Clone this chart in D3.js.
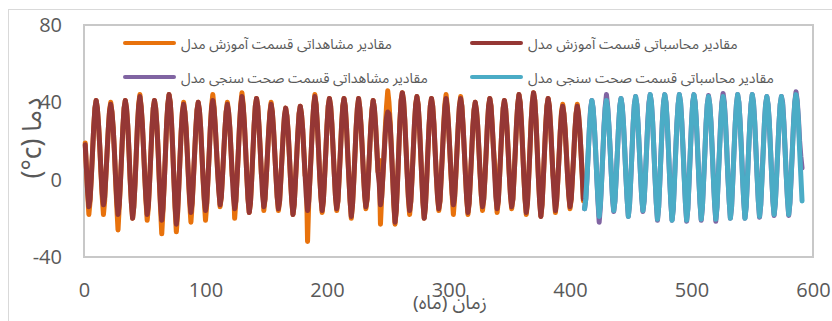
<!DOCTYPE html>
<html>
<head>
<meta charset="utf-8">
<script src="https://cdn.jsdelivr.net/npm/d3@7"></script>
<style>
  body { margin: 0; background: #fff; }
  svg { display: block; }
</style>
</head>
<body>
<svg id="chart" width="832" height="321"></svg>
<script>
// Monthly temperature (°C). Training period: months 1–411, validation: months 412–591.
const trainStartMonth = 1;
const validStartMonth = 412;

// Observed values, training period (one row per year)
const observedTrain = [
  19, 6, -7, -18, -11, 1, 14, 27, 37, 41, 37, 28,
  17, 3, -9, -18, -11, 2, 14, 26, 36, 40, 35, 27,
  15, 0, -14, -26, -14, -1, 13, 27, 37, 41, 37, 28,
  15, 0, -12, -20, -14, -2, 13, 28, 39, 44, 38, 29,
  16, 2, -11, -21, -14, -1, 13, 27, 37, 41, 37, 28,
  15, -1, -15, -28, -16, -2, 13, 29, 39, 44, 40, 30,
  16, 0, -15, -27, -18, -4, 11, 25, 35, 40, 35, 27,
  14, 0, -12, -22, -13, 0, 13, 26, 36, 40, 36, 27,
  14, 0, -11, -21, -13, 0, 13, 27, 38, 44, 38, 28,
  16, 4, -5, -14, -9, 2, 14, 26, 35, 40, 35, 27,
  15, 2, -1, -20, -11, 1, 14, 28, 39, 45, 39, 29,
  16, 2, -10, -17, -12, 0, 14, 28, 38, 42, 38, 28,
  16, 3, 0, -16, -10, 1, 13, 25, 35, 40, 35, 26,
  14, 2, -9, -16, -11, 0, 12, 24, 33, 37, 33, 25,
  13, 0, -11, -18, -13, -1, 11, 24, 34, 38, 34, 26,
  14, 2, 2, -32, -11, 1, 14, 28, 38, 44, 39, 29,
  16, 2, -9, -17, -11, 1, 14, 28, 38, 42, 38, 29,
  16, 3, -9, -16, -11, 1, 14, 28, 38, 42, 38, 28,
  14, 1, -11, -20, -13, -1, 13, 27, 37, 42, 37, 28,
  16, 3, -8, -15, -10, 1, 14, 27, 36, 41, 37, 28,
  16, 4, 10, -23, -9, 2, 14, 27, 38, 46, 40, 30,
  16, 2, -13, -23, -16, -2, 14, 30, 41, 45, 41, 31,
  17, 3, -10, -18, -11, 1, 15, 29, 39, 43, 39, 29,
  15, 1, -12, -20, -14, -1, 14, 28, 38, 42, 38, 29,
  15, 2, -9, -16, -11, 1, 14, 28, 39, 44, 38, 28,
  16, 3, -8, -18, -10, 2, 15, 28, 38, 43, 38, 28,
  15, 2, -10, -18, -12, 0, 13, 27, 36, 40, 36, 28,
  16, 3, -8, -16, -10, 1, 14, 28, 38, 42, 38, 28,
  16, 8, -6, -17, -11, 1, 14, 27, 37, 41, 37, 28,
  16, 3, -8, -15, -10, 2, 15, 29, 39, 44, 40, 30,
  16, 2, -10, -18, -12, 1, 15, 30, 40, 45, 41, 31,
  16, 1, -11, -19, -13, 0, 14, 28, 38, 42, 38, 28,
  15, 2, -3, -17, -11, 0, 12, 25, 35, 39, 34, 26,
  14, 2, -8, -15, -10, 1, 12, 25, 34, 39, 34, 26,
  15, 3, -11
];

// Model output, training period
const computedTrain = [
  18, 6, -6, -14, -10, 1, 14, 27, 37, 41, 37, 28,
  17, 4, -7, -13, -9, 2, 14, 26, 35, 39, 35, 27,
  15, 1, -11, -18, -13, -1, 13, 27, 37, 41, 37, 28,
  15, 0, -12, -20, -14, -2, 13, 28, 38, 43, 38, 29,
  16, 2, -10, -18, -13, -1, 13, 27, 37, 41, 37, 28,
  15, 0, -13, -21, -15, -2, 13, 29, 39, 44, 40, 30,
  16, 0, -14, -23, -17, -4, 11, 25, 35, 39, 35, 27,
  14, 1, -10, -17, -12, 0, 13, 26, 36, 40, 36, 27,
  14, 1, -10, -16, -12, 0, 13, 27, 37, 41, 37, 28,
  16, 4, -6, -13, -9, 2, 14, 26, 35, 39, 35, 27,
  15, 2, -9, -15, -11, 1, 14, 28, 38, 43, 38, 29,
  16, 2, -10, -17, -12, 0, 14, 28, 38, 42, 38, 28,
  16, 3, -8, -14, -10, 1, 13, 25, 34, 39, 35, 26,
  14, 2, -9, -15, -11, 0, 12, 24, 33, 37, 33, 25,
  13, 0, -11, -18, -13, -1, 11, 24, 34, 38, 34, 26,
  14, 2, -9, -16, -11, 1, 14, 28, 38, 43, 39, 29,
  16, 2, -9, -16, -11, 1, 14, 28, 38, 42, 38, 29,
  16, 3, -9, -15, -11, 1, 14, 28, 38, 42, 38, 28,
  14, 1, -11, -19, -13, -1, 13, 27, 37, 42, 37, 28,
  16, 3, -8, -14, -10, 1, 14, 27, 36, 41, 37, 28,
  16, 4, -2, -13, -9, 2, 13, 24, 32, 35, 34, 28,
  16, 2, -12, -22, -16, -2, 14, 30, 41, 45, 41, 31,
  17, 3, -9, -16, -11, 1, 15, 29, 39, 43, 39, 29,
  15, 1, -12, -20, -14, -1, 14, 28, 38, 42, 38, 29,
  15, 2, -9, -15, -11, 1, 14, 27, 37, 42, 37, 28,
  16, 4, -7, -13, -9, 2, 15, 28, 38, 42, 38, 28,
  15, 2, -10, -17, -12, 0, 13, 27, 36, 40, 36, 28,
  16, 3, -8, -14, -10, 1, 14, 28, 38, 42, 38, 28,
  16, 3, -9, -15, -11, 1, 14, 27, 37, 41, 37, 28,
  16, 3, -8, -14, -10, 2, 15, 29, 39, 44, 40, 30,
  16, 2, -10, -17, -12, 1, 15, 30, 40, 45, 41, 31,
  16, 1, -11, -19, -13, 0, 14, 28, 38, 42, 38, 28,
  15, 2, -9, -16, -11, 0, 12, 25, 34, 38, 34, 26,
  14, 2, -8, -14, -10, 1, 12, 25, 34, 38, 34, 26,
  15, 3, -10
];

// Observed values, validation period (rows start at the winter low)
const observedValid = [
  -15, -10, 1, 14, 27, 37, 41, 37, 28, 16, 2, -11,
  -22, -14, -1, 13, 28, 38, 44, 38, 28, 16, 3, -10,
  -16.5, -11, 1, 14, 28, 38, 42, 38, 29, 16, 2, -10,
  -19, -13, 0, 14, 29, 39, 43, 39, 29, 16, 3, -9,
  -16.5, -11, 1, 15, 30, 40, 44, 40, 30, 16, 1, -12,
  -21, -14, 0, 15, 30, 40, 44, 40, 30, 16, 1, -12,
  -21, -15, 0, 15, 29, 39, 44, 40, 30, 17, 2, -12,
  -21.5, -15, -1, 14, 29, 40, 44, 40, 30, 16, 1, -12,
  -21, -14, 0, 14, 29, 39, 43.5, 39, 30, 16, 1, -12,
  -21.5, -14, 1, 15, 30, 40, 44.6, 40, 30, 16, 1, -11,
  -20, -14, 0, 15, 29, 39, 44, 40, 30, 17, 2, -11,
  -20, -14, 0, 15, 29, 39, 44, 40, 30, 16, 2, -11,
  -19.5, -13, 1, 15, 29, 39, 43, 39, 30, 16, 2, -11,
  -18.5, -12, 1, 15, 29, 39, 43, 40, 30, 16, 2, -10,
  -18.5, -12, 1, 15, 30, 40, 45.5, 41, 32, 20, 12, 6
];

// Model output, validation period
const computedValid = [
  -15, -10, 1, 14, 27, 36, 41, 37, 28, 16, 2, -10,
  -19, -13, -1, 13, 27, 37, 41, 37, 28, 16, 3, -9,
  -16, -11, 1, 14, 28, 38, 42, 38, 29, 16, 2, -10,
  -19, -13, 0, 14, 29, 39, 43, 39, 29, 16, 3, -9,
  -16, -11, 1, 15, 29, 39, 44, 40, 30, 16, 1, -12,
  -20.5, -14, 0, 15, 30, 40, 44, 40, 30, 16, 1, -12,
  -21, -15, -1, 14, 29, 39, 44, 40, 30, 16, 1, -12,
  -21, -15, -1, 14, 29, 40, 44, 40, 30, 16, 1, -12,
  -20.5, -14, 0, 14, 29, 39, 43, 39, 30, 16, 1, -12,
  -20.5, -14, 0, 14, 29, 39, 43, 39, 29, 16, 1, -11,
  -20, -14, 0, 15, 29, 39, 44, 40, 30, 16, 1, -11,
  -20, -14, 0, 15, 29, 39, 44, 40, 30, 16, 2, -11,
  -19, -13, 0, 14, 29, 39, 43, 39, 30, 16, 2, -11,
  -18, -12, 1, 15, 29, 39, 43, 39, 29, 16, 2, -10,
  -18, -12, 1, 15, 29, 40, 44, 40, 30, 15, 2, -11
];

const xTicks = [0, 100, 200, 300, 400, 500, 600];
const yTicks = [-40, 0, 40, 80];

const seriesLabels = [
  "مقادیر مشاهداتی قسمت آموزش مدل",
  "مقادیر محاسباتی قسمت آموزش مدل",
  "مقادیر مشاهداتی قسمت صحت سنجی مدل",
  "مقادیر محاسباتی قسمت صحت سنجی مدل"
];
const seriesColors = ["#E8720C", "#953735", "#8064A2", "#4BACC6"];
const xTitle = "زمان (ماه)";
const yTitle = "(°c) دما";

// ---- drawing ----
const svg = d3.select("#chart");
const textColor = "#595959";
const numFont = "'Open Sans', 'Segoe UI', sans-serif";
const faFont = "'Noto Sans Arabic', 'Noto Naskh Arabic', 'DejaVu Sans', sans-serif";

const x = d3.scaleLinear().domain([0, 600]).range([84, 813]);
const y = d3.scaleLinear().domain([-40, 80]).range([257, 25]);

// outer chart frame
svg.append("rect")
  .attr("x", 8.5).attr("y", 9.5)
  .attr("width", 840).attr("height", 340)
  .attr("fill", "none").attr("stroke", "#d9d9d9").attr("stroke-width", 1);

// plot area frame
svg.append("rect")
  .attr("x", x(0)).attr("y", y(80))
  .attr("width", x(600) - x(0)).attr("height", y(-40) - y(80))
  .attr("fill", "none").attr("stroke", "#c8c8c8").attr("stroke-width", 2);

// axes (plain hyphen for negative numbers)
const plain = d => String(d);
const gx = svg.append("g")
  .attr("transform", `translate(0,${y(-40)})`)
  .call(d3.axisBottom(x).tickValues(xTicks).tickSize(0).tickPadding(26).tickFormat(plain));
const gy = svg.append("g")
  .attr("transform", `translate(${x(0)},0)`)
  .call(d3.axisLeft(y).tickValues(yTicks).tickSize(0).tickPadding(22).tickFormat(plain));
[gx, gy].forEach(g => {
  g.select(".domain").remove();
  g.attr("font-family", numFont).attr("font-size", 20);
  g.selectAll("text").attr("fill", textColor);
});

// series
const toPoints = (vals, start) => vals.map((v, i) => ({ m: start + i, v }));
const series = [
  toPoints(observedTrain, trainStartMonth),
  toPoints(computedTrain, trainStartMonth),
  toPoints(observedValid, validStartMonth),
  toPoints(computedValid, validStartMonth)
];
const line = d3.line().x(d => x(d.m)).y(d => y(d.v));

svg.append("g").selectAll("path")
  .data(series)
  .join("path")
  .attr("d", line)
  .attr("fill", "none")
  .attr("stroke", (d, i) => seriesColors[i])
  .attr("stroke-width", 5)
  .attr("stroke-linejoin", "round")
  .attr("stroke-linecap", "round");

// legend (2 x 2)
const legendPos = [
  { x: 123, y: 43, w: 211 },
  { x: 470, y: 43, w: 210 },
  { x: 123, y: 77, w: 247 },
  { x: 470, y: 77, w: 246 }
];
const fitText = (sel, target, base) => {
  const len = sel.node().getComputedTextLength();
  if (len > 0) sel.attr("font-size", base * target / len);
};
const legend = svg.append("g");
seriesLabels.forEach((label, i) => {
  const p = legendPos[i];
  legend.append("line")
    .attr("x1", p.x + 2).attr("x2", p.x + 51)
    .attr("y1", p.y).attr("y2", p.y)
    .attr("stroke", seriesColors[i]).attr("stroke-width", 4)
    .attr("stroke-linecap", "round");
  const t = legend.append("text")
    .attr("x", p.x + 58).attr("y", p.y + 6)
    .attr("font-family", faFont).attr("font-size", 14)
    .attr("fill", textColor)
    .text(label);
  fitText(t, p.w, 14);
});

// axis titles
const xt = svg.append("text")
  .attr("x", 450).attr("y", 309)
  .attr("text-anchor", "middle")
  .attr("font-family", faFont).attr("font-size", 17)
  .attr("fill", textColor)
  .text(xTitle);
fitText(xt, 74, 17);

const yt = svg.append("text")
  .attr("transform", "translate(41,138) rotate(-90)")
  .attr("text-anchor", "middle")
  .attr("font-family", faFont).attr("font-size", 20)
  .attr("fill", textColor)
  .text(yTitle);
fitText(yt, 81, 20);
</script>
</body>
</html>
